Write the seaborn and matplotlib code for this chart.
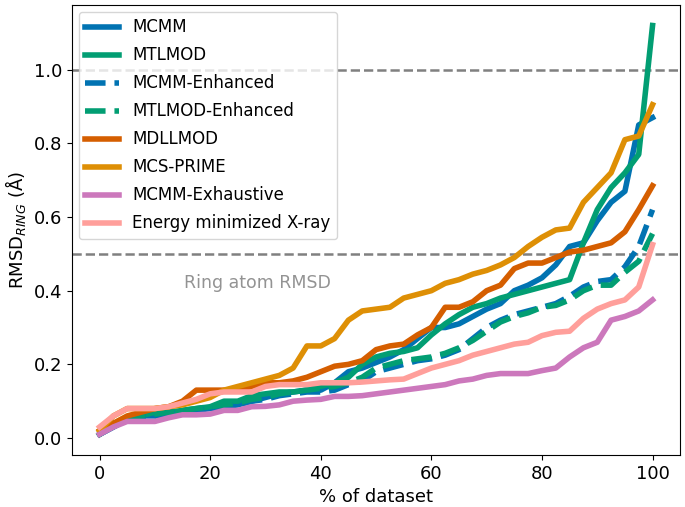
import numpy as np
import pandas as pd
import seaborn as sns
import matplotlib
matplotlib.use("Agg")
import matplotlib.pyplot as plt

# % of dataset (x positions shared by every method)
pct = [0, 2.5, 5, 7.5, 10, 12.5, 15, 17.5, 20, 22.5, 25, 27.5, 30, 32.5, 35, 37.5, 40,
       42.5, 45, 47.5, 50, 52.5, 55, 57.5, 60, 62.5, 65, 67.5, 70, 72.5, 75, 77.5, 80,
       82.5, 85, 87.5, 90, 92.5, 95, 97.5, 100]

mcmm = [0.01, 0.03, 0.05, 0.06, 0.06, 0.07, 0.07, 0.075, 0.08, 0.085, 0.09, 0.10, 0.11,
        0.12, 0.125, 0.13, 0.13, 0.15, 0.18, 0.19, 0.205, 0.22, 0.24, 0.27, 0.30, 0.30,
        0.31, 0.33, 0.35, 0.365, 0.40, 0.415, 0.435, 0.47, 0.52, 0.53, 0.59, 0.64, 0.67,
        0.85, 0.87]
mtlmod = [0.01, 0.04, 0.05, 0.06, 0.07, 0.07, 0.075, 0.08, 0.085, 0.10, 0.10, 0.115, 0.12,
          0.125, 0.125, 0.13, 0.14, 0.15, 0.165, 0.20, 0.22, 0.23, 0.235, 0.245, 0.28, 0.31,
          0.335, 0.355, 0.365, 0.38, 0.39, 0.40, 0.41, 0.42, 0.43, 0.53, 0.62, 0.68, 0.72,
          0.77, 1.12]
mcmm_enh = [0.01, 0.03, 0.05, 0.055, 0.06, 0.065, 0.07, 0.075, 0.08, 0.085, 0.09, 0.10,
            0.105, 0.115, 0.12, 0.125, 0.125, 0.13, 0.145, 0.155, 0.18, 0.19, 0.20, 0.21,
            0.215, 0.225, 0.24, 0.27, 0.30, 0.32, 0.335, 0.345, 0.355, 0.365, 0.385, 0.41,
            0.425, 0.43, 0.465, 0.52, 0.62]
mtlmod_enh = [0.01, 0.035, 0.05, 0.06, 0.065, 0.07, 0.075, 0.08, 0.085, 0.09, 0.095, 0.105,
              0.11, 0.12, 0.125, 0.13, 0.135, 0.14, 0.15, 0.165, 0.19, 0.20, 0.21, 0.215,
              0.22, 0.23, 0.245, 0.265, 0.29, 0.315, 0.33, 0.34, 0.355, 0.36, 0.375, 0.40,
              0.415, 0.415, 0.45, 0.48, 0.555]
mdllmod = [0.02, 0.04, 0.06, 0.07, 0.08, 0.085, 0.10, 0.13, 0.13, 0.13, 0.13, 0.14, 0.15,
           0.15, 0.155, 0.165, 0.18, 0.195, 0.20, 0.21, 0.24, 0.25, 0.255, 0.28, 0.30, 0.355,
           0.355, 0.37, 0.40, 0.415, 0.46, 0.475, 0.475, 0.49, 0.505, 0.51, 0.52, 0.53, 0.56,
           0.62, 0.685]
mcs_prime = [0.02, 0.06, 0.08, 0.08, 0.08, 0.085, 0.09, 0.10, 0.11, 0.13, 0.14, 0.15, 0.16,
             0.17, 0.19, 0.25, 0.25, 0.27, 0.32, 0.345, 0.35, 0.355, 0.38, 0.39, 0.40, 0.42,
             0.43, 0.445, 0.455, 0.47, 0.49, 0.52, 0.545, 0.565, 0.57, 0.64, 0.68, 0.72, 0.81,
             0.82, 0.905]
mcmm_exh = [0.01, 0.03, 0.045, 0.045, 0.045, 0.055, 0.063, 0.063, 0.065, 0.075, 0.075, 0.085,
            0.086, 0.09, 0.10, 0.103, 0.105, 0.113, 0.113, 0.115, 0.12, 0.125, 0.13, 0.135,
            0.14, 0.145, 0.155, 0.16, 0.17, 0.175, 0.175, 0.175, 0.183, 0.19, 0.22, 0.245,
            0.26, 0.32, 0.33, 0.345, 0.375]
xray_min = [0.03, 0.06, 0.08, 0.08, 0.08, 0.085, 0.095, 0.105, 0.12, 0.125, 0.125, 0.125,
            0.14, 0.145, 0.145, 0.145, 0.15, 0.15, 0.15, 0.152, 0.155, 0.158, 0.16, 0.175,
            0.19, 0.20, 0.21, 0.225, 0.235, 0.245, 0.255, 0.26, 0.278, 0.287, 0.29, 0.325,
            0.35, 0.365, 0.375, 0.41, 0.525]

cb = sns.color_palette("colorblind")
pastel = sns.color_palette("pastel")

series = [
    ("MCMM", mcmm, cb[0], "-"),
    ("MTLMOD", mtlmod, cb[2], "-"),
    ("MCMM-Enhanced", mcmm_enh, cb[0], "--"),
    ("MTLMOD-Enhanced", mtlmod_enh, cb[2], "--"),
    ("MDLLMOD", mdllmod, cb[3], "-"),
    ("MCS-PRIME", mcs_prime, cb[1], "-"),
    ("MCMM-Exhaustive", mcmm_exh, cb[4], "-"),
    ("Energy minimized X-ray", xray_min, pastel[3], "-"),
]

fig, ax = plt.subplots(figsize=(6.85, 5.07), dpi=100)
fig.subplots_adjust(left=0.105, right=0.993, top=0.99, bottom=0.103)

# reference lines
ax.axhline(1.0, color="gray", linestyle="--", linewidth=1.8, zorder=1)
ax.axhline(0.5, color="gray", linestyle="--", linewidth=1.8, zorder=1)
ax.text(28.5, 0.42, "Ring atom RMSD", color="gray", fontsize=12.5,
        ha="center", va="center", alpha=0.85)

for name, vals, col, ls in series:
    df = pd.DataFrame({"pct": pct, "rmsd": vals})
    sns.lineplot(data=df, x="pct", y="rmsd", ax=ax, color=col, linestyle=ls,
                 linewidth=4, label=name)

ax.set_xlabel("% of dataset", fontsize=13)
ax.set_ylabel(r"RMSD$_{RING}$ (Å)", fontsize=13)
ax.tick_params(labelsize=13)
ax.set_xticks([0, 20, 40, 60, 80, 100])
ax.set_yticks([0.0, 0.2, 0.4, 0.6, 0.8, 1.0])
ax.legend(loc="upper left", fontsize=12, handlelength=2.0, labelspacing=0.6,
          borderaxespad=0.4)

fig.savefig("out.png", dpi=100)
